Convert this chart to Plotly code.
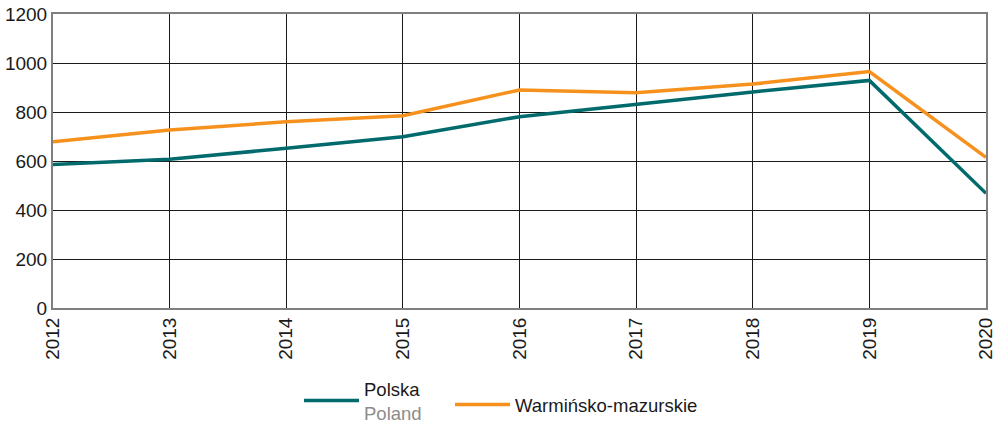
import plotly.graph_objects as go

years = [2012, 2013, 2014, 2015, 2016, 2017, 2018, 2019, 2020]
polska = [586, 607, 652, 699, 781, 832, 882, 929, 468]
warminsko = [679, 727, 760, 785, 890, 879, 914, 965, 615]

name_pl = "Polska<br><span style='color:#8c8c8c'>Poland</span>"
name_wm = "Warmińsko-mazurskie"

fig = go.Figure()
fig.add_trace(go.Scatter(x=years, y=polska, mode="lines", name=name_pl,
                         line=dict(color="#006a6c", width=3.5), legend="legend"))
fig.add_trace(go.Scatter(x=years, y=warminsko, mode="lines", name=name_wm,
                         line=dict(color="#f7911e", width=3.5), legend="legend2"))

leg_common = dict(orientation="h", xref="container", yref="container",
                  yanchor="middle", xanchor="left",
                  font=dict(size=18.5, color="#1a1a1a"), itemwidth=55,
                  bgcolor="rgba(0,0,0,0)")

fig.update_layout(
    width=999, height=424,
    margin=dict(l=53, r=13, t=14, b=116, autoexpand=False),
    paper_bgcolor="white", plot_bgcolor="white",
    font=dict(family="Liberation Sans, Arial, sans-serif", size=19, color="#1a1a1a"),
    showlegend=True,
    legend=dict(x=299 / 999, y=(424 - 401) / 424, **leg_common),
    legend2=dict(x=450 / 999, y=(424 - 405) / 424, **leg_common),
    xaxis=dict(range=[2012, 2020], tickmode="array", tickvals=years,
               ticktext=[str(y) for y in years], tickangle=-90,
               showgrid=True, gridcolor="#1a1a1a", gridwidth=1,
               showline=True, linecolor="#7f7f7f", linewidth=2, mirror=True,
               ticks="", zeroline=False, automargin=False),
    yaxis=dict(range=[0, 1200], tickvals=[0, 200, 400, 600, 800, 1000, 1200],
               showgrid=True, gridcolor="#1a1a1a", gridwidth=1,
               showline=True, linecolor="#7f7f7f", linewidth=2, mirror=True,
               ticks="", zeroline=False, automargin=False),
)

fig.write_html("out.html", config={"displayModeBar": False},
               post_script="document.body.style.margin='0';document.body.style.overflow='hidden';")
